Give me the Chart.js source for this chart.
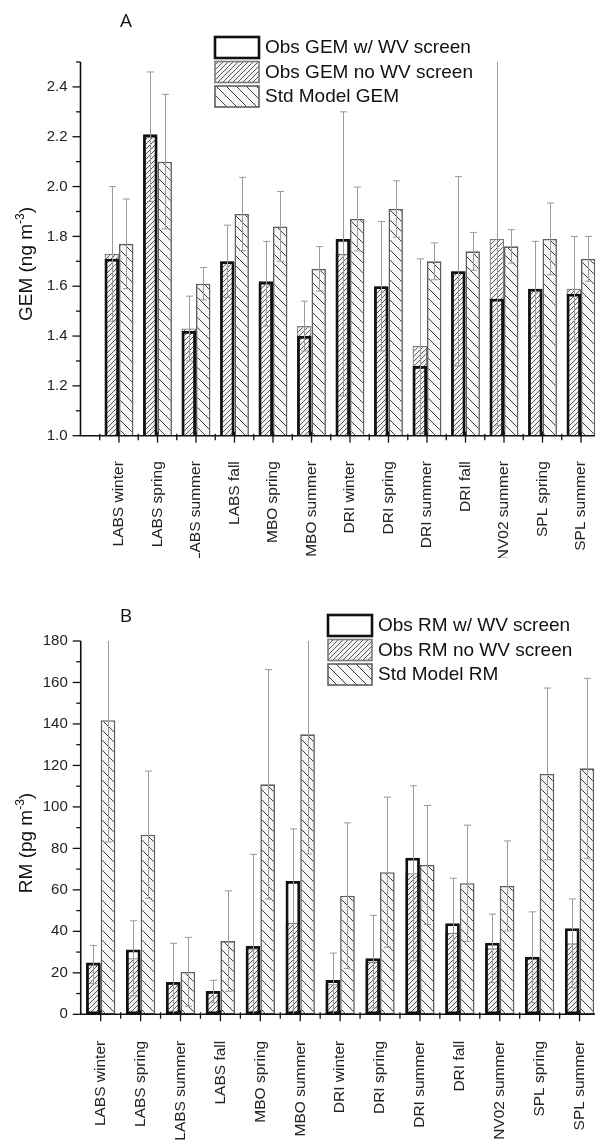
<!DOCTYPE html>
<html>
<head>
<meta charset="utf-8">
<script src="https://cdn.jsdelivr.net/npm/chart.js@4.4.1/dist/chart.umd.min.js"></script>
<style>
  html, body { margin: 0; padding: 0; background: #fff; overflow: hidden; }
  .panel { position: relative; width: 595px; overflow: hidden; }
  canvas { display: block; }
</style>
</head>
<body>
<div class="panel" style="height:558px"><canvas id="chartA" width="625" height="558"></canvas></div>
<div class="panel" style="height:582px"><canvas id="chartB" width="605" height="582"></canvas></div>
<script>
// sites / seasons
const sites = ['LABS winter', 'LABS spring', 'LABS summer', 'LABS fall', 'MBO spring', 'MBO summer',
  'DRI winter', 'DRI spring', 'DRI summer', 'DRI fall', 'NV02 summer', 'SPL spring', 'SPL summer'];

// panel A - GEM (ng m-3)
const gemObsScreen   = [1.71, 2.21, 1.42, 1.70, 1.62, 1.40, 1.79, 1.60, 1.28, 1.66, 1.55, 1.59, 1.57];
const gemObsNoScreen = [1.73, 2.20, 1.43, 1.70, 1.61, 1.44, 1.73, 1.60, 1.36, 1.66, 1.79, 1.59, 1.59];
const gemObsSd       = [0.27, 0.26, 0.13, 0.145, 0.17, 0.10, 0.57, 0.26, 0.35, 0.38, 0.75, 0.19, 0.21];
const gemModel       = [1.77, 2.10, 1.61, 1.89, 1.84, 1.67, 1.87, 1.91, 1.70, 1.74, 1.76, 1.79, 1.71];
const gemModelSd     = [0.18, 0.27, 0.065, 0.147, 0.14, 0.089, 0.128, 0.113, 0.074, 0.076, 0.067, 0.144, 0.09];

// panel B - RM (pg m-3)
const rmObsScreen   = [25, 31.3, 15.6, 11.2, 32.9, 64.3, 16.5, 27.0, 75.5, 43.9, 34.5, 27.8, 41.5];
const rmObsNoScreen = [24, 27.0, 14.9, 11.0, 31.8, 44.2, 14.5, 25.4, 68.0, 39.3, 31.8, 27.5, 34.2];
const rmObsSd       = [9.2, 18.1, 19.3, 5.4, 45.3, 45.2, 15, 22.3, 42.2, 26.3, 16.5, 21.9, 21.4];
const rmModel       = [141.8, 86.6, 20.5, 35.3, 110.9, 135.0, 57.2, 68.5, 72.0, 63.2, 61.9, 115.9, 118.6];
const rmModelSd     = [58.7, 30.7, 16.6, 24.2, 55.3, 57.7, 35.1, 36.2, 28.7, 28.0, 21.7, 41.4, 43.4];

const FONT = "'Liberation Sans', Arial, sans-serif";

// hatch fills
function hatch(step, dir, bg, fg) {
  const c = document.createElement('canvas');
  c.width = step; c.height = step;
  const g = c.getContext('2d');
  g.fillStyle = bg; g.fillRect(0, 0, step, step);
  g.strokeStyle = fg; g.lineWidth = 1;
  g.beginPath();
  if (dir > 0) {
    g.moveTo(-1, step + 1); g.lineTo(step + 1, -1);
    g.moveTo(-1, 1); g.lineTo(1, -1);
    g.moveTo(step - 1, step + 1); g.lineTo(step + 1, step - 1);
  } else {
    g.moveTo(-1, -1); g.lineTo(step + 1, step + 1);
    g.moveTo(step - 1, -1); g.lineTo(step + 1, 1);
    g.moveTo(-1, step - 1); g.lineTo(1, step + 1);
  }
  g.stroke();
  return g.createPattern(c, 'repeat');
}
const obsFill = hatch(5, 1, '#f3f3f3', '#5a5a5a');
const modelFill = hatch(10, -1, '#f7f7f7', '#3c3c3c');

function drawErrors(chart, dsIndex, sd) {
  const meta = chart.getDatasetMeta(dsIndex);
  const data = chart.data.datasets[dsIndex].data;
  const y = chart.scales.y, a = chart.chartArea, ctx = chart.ctx;
  ctx.save();
  ctx.beginPath();
  ctx.rect(a.left, a.top, a.right - a.left, a.bottom - a.top);
  ctx.clip();
  ctx.strokeStyle = '#9a9a9a';
  ctx.lineWidth = 1;
  meta.data.forEach((bar, i) => {
    const v = data[i];
    if (v == null || sd[i] == null) return;
    const px = Math.round(bar.x) + 0.5;
    const hi = v + sd[i], lo = v - sd[i];
    const yh = y.getPixelForValue(hi), yl = y.getPixelForValue(lo);
    ctx.beginPath(); ctx.moveTo(px, yh); ctx.lineTo(px, yl); ctx.stroke();
    [[hi, yh], [lo, yl]].forEach(([val, py]) => {
      if (val <= y.max && val >= y.min) {
        ctx.beginPath(); ctx.moveTo(px - 3.5, py); ctx.lineTo(px + 3.5, py); ctx.stroke();
      }
    });
  });
  ctx.restore();
}

const decor = {
  id: 'decor',
  afterDatasetsDraw(chart, args, o) {
    const ctx = chart.ctx, x = chart.scales.x, y = chart.scales.y, a = chart.chartArea;
    drawErrors(chart, 1, o.obsSd);
    drawErrors(chart, 2, o.modelSd);

    ctx.save();
    // axis lines
    ctx.strokeStyle = '#111';
    ctx.lineWidth = 1.6;
    ctx.beginPath();
    ctx.moveTo(a.left, a.top); ctx.lineTo(a.left, a.bottom); ctx.lineTo(a.right + 2, a.bottom);
    ctx.stroke();

    // y ticks, major and minor
    ctx.lineWidth = 1.3;
    const n = Math.round((y.max - y.min) / o.yMinor);
    for (let k = 0; k <= n; k++) {
      const py = y.getPixelForValue(y.min + k * o.yMinor);
      const len = k % o.yMajorEvery === 0 ? 8 : 4.5;
      ctx.beginPath(); ctx.moveTo(a.left - len, py); ctx.lineTo(a.left, py); ctx.stroke();
    }

    // x ticks: majors on the sites, minors in between
    const labels = chart.data.labels;
    for (let i = 0; i < labels.length; i++) {
      const px = x.getPixelForTick(i);
      if (labels[i] !== '') {
        ctx.beginPath(); ctx.moveTo(px, a.bottom - 4); ctx.lineTo(px, a.bottom + 7); ctx.stroke();
      }
      if (i < labels.length - 1) {
        const mx = (px + x.getPixelForTick(i + 1)) / 2;
        ctx.beginPath(); ctx.moveTo(mx, a.bottom - 2); ctx.lineTo(mx, a.bottom + 4.5); ctx.stroke();
      }
    }

    // panel letter
    ctx.fillStyle = '#111';
    ctx.font = "19px 'Open Sans', sans-serif";
    ctx.textAlign = 'center';
    ctx.textBaseline = 'middle';
    ctx.fillText(o.letter, o.letterX, o.letterY);

    // y title with superscript
    ctx.translate(o.titleX, o.titleY);
    ctx.rotate(-Math.PI / 2);
    ctx.textAlign = 'left';
    ctx.textBaseline = 'alphabetic';
    const mainFont = '19px ' + FONT, supFont = '12px ' + FONT;
    ctx.font = mainFont; const w1 = ctx.measureText(o.title).width;
    ctx.font = supFont; const w2 = ctx.measureText('-3').width;
    ctx.font = mainFont; const w3 = ctx.measureText(')').width;
    let sx = -(w1 + w2 + w3) / 2;
    ctx.fillText(o.title, sx, 0); sx += w1;
    ctx.font = supFont; ctx.fillText('-3', sx, -8); sx += w2;
    ctx.font = mainFont; ctx.fillText(')', sx, 0);
    ctx.restore();

    // legend
    ctx.save();
    const lg = o.legend;
    chart.data.datasets.forEach((ds, i) => {
      const top = lg.y + i * lg.step;
      ctx.fillStyle = ds.backgroundColor === 'transparent' ? '#fff' : ds.backgroundColor;
      ctx.fillRect(lg.x, top, 44, 21);
      ctx.strokeStyle = ds.borderColor;
      ctx.lineWidth = i === 0 ? 2.6 : 1.6;
      ctx.strokeRect(lg.x, top, 44, 21);
      ctx.fillStyle = '#111';
      ctx.font = '19px ' + FONT;
      ctx.textAlign = 'left';
      ctx.textBaseline = 'middle';
      ctx.fillText(ds.label, lg.x + 50, top + 11);
    });
    ctx.restore();
  }
};

function makePanel(id, p) {
  const padded = arr => p.padEnds ? [null, ...arr, null] : arr;
  const labels = p.padEnds ? ['', ...sites, ''] : sites;
  return new Chart(document.getElementById(id), {
    type: 'bar',
    data: {
      labels: labels,
      datasets: [
        { label: p.names[0], data: padded(p.screen), stack: 'obs', backgroundColor: 'transparent',
          borderColor: '#111', borderWidth: 2.8, borderSkipped: false },
        { label: p.names[1], data: padded(p.noScreen), stack: 'obs', backgroundColor: obsFill,
          borderColor: '#7a7a7a', borderWidth: 1.3, borderSkipped: false },
        { label: p.names[2], data: padded(p.model), stack: 'model', backgroundColor: modelFill,
          borderColor: '#5e5e5e', borderWidth: 1.6, borderSkipped: false }
      ]
    },
    options: {
      responsive: false,
      animation: false,
      events: [],
      categoryPercentage: p.catPct,
      barPercentage: 1,
      layout: { padding: { top: p.top, right: 5.5, left: 0, bottom: 0 } },
      plugins: {
        legend: { display: false },
        tooltip: { enabled: false },
        decor: {
          obsSd: padded(p.obsSd), modelSd: padded(p.modelSd),
          yMinor: p.yMinor, yMajorEvery: 2,
          letter: p.letter, letterX: 126, letterY: p.letterY,
          title: p.title, titleX: 32, titleY: p.titleY,
          legend: p.legend
        }
      },
      scales: {
        x: {
          type: 'category',
          offset: !p.padEnds,
          grid: { display: false, drawTicks: false },
          border: { display: false },
          ticks: { autoSkip: false, minRotation: 90, maxRotation: 90, padding: p.xPad, color: '#222',
                   font: { family: FONT, size: 15.5 } },
          afterFit: s => { s.height = p.xHeight; s.paddingLeft = 0; s.paddingRight = 0; }
        },
        y: {
          min: p.yMin, max: p.yMax, stacked: false,
          grid: { display: false, drawTicks: false },
          border: { display: false },
          ticks: { stepSize: p.yMinor, autoSkip: false, padding: 13, color: '#222',
                   font: { family: FONT, size: 15 }, callback: p.yLabel },
          afterFit: s => { s.width = p.left; }
        }
      }
    },
    plugins: [decor]
  });
}

makePanel('chartA', {
  padEnds: true,
  names: ['Obs GEM w/ WV screen', 'Obs GEM no WV screen', 'Std Model GEM'],
  screen: gemObsScreen, noScreen: gemObsNoScreen, obsSd: gemObsSd,
  model: gemModel, modelSd: gemModelSd,
  catPct: 0.75, top: 62, left: 80.5, xHeight: 558 - 435.7, xPad: 25.5,
  yMin: 1.0, yMax: 2.5, yMinor: 0.1,
  yLabel: v => (Math.round(v * 10) % 2 === 0 && v < 2.45) ? v.toFixed(1) : '',
  letter: 'A', letterY: 22,
  title: 'GEM (ng m', titleY: 264,
  legend: { x: 215, y: 37, step: 24.5 }
});

makePanel('chartB', {
  padEnds: false,
  names: ['Obs RM w/ WV screen', 'Obs RM no WV screen', 'Std Model RM'],
  screen: rmObsScreen, noScreen: rmObsNoScreen, obsSd: rmObsSd,
  model: rmModel, modelSd: rmModelSd,
  catPct: 0.735, top: 83, left: 80.75, xHeight: 582 - 456.3, xPad: 26.5,
  yMin: 0, yMax: 180, yMinor: 10,
  yLabel: v => Math.round(v) % 20 === 0 ? String(Math.round(v)) : '',
  letter: 'B', letterY: 59,
  title: 'RM (pg m', titleY: 285,
  legend: { x: 328, y: 57, step: 24.5 }
});
</script>
</body>
</html>
